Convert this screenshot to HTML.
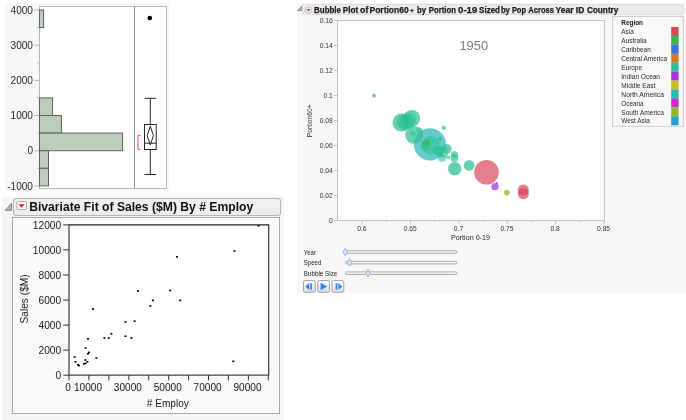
<!DOCTYPE html>
<html><head><meta charset="utf-8"><title>JMP report</title>
<style>
html,body{margin:0;padding:0;background:#fff;}
body{width:686px;height:420px;overflow:hidden;font-family:'Liberation Sans', sans-serif;}
svg{display:block;font-family:'Liberation Sans', sans-serif;}
</style></head><body>
<svg width="686" height="420" viewBox="0 0 686 420">
<rect x="5" y="3" width="164" height="188" fill="#f7f7f7"/>
<rect x="39.5" y="6.5" width="127" height="182" fill="#fff" stroke="#bababa" stroke-width="1"/>
<line x1="134.5" y1="6.5" x2="134.5" y2="188.5" stroke="#8c8c8c" stroke-width="1"/>
<line x1="34.5" y1="10.0" x2="39.5" y2="10.0" stroke="#b5b5b5" stroke-width="1"/>
<text x="33" y="13.7" font-size="10.1" text-anchor="end" fill="#2a2a2a">4000</text>
<line x1="34.5" y1="45.2" x2="39.5" y2="45.2" stroke="#b5b5b5" stroke-width="1"/>
<text x="33" y="48.9" font-size="10.1" text-anchor="end" fill="#2a2a2a">3000</text>
<line x1="34.5" y1="80.4" x2="39.5" y2="80.4" stroke="#b5b5b5" stroke-width="1"/>
<text x="33" y="84.1" font-size="10.1" text-anchor="end" fill="#2a2a2a">2000</text>
<line x1="34.5" y1="115.5" x2="39.5" y2="115.5" stroke="#b5b5b5" stroke-width="1"/>
<text x="33" y="119.2" font-size="10.1" text-anchor="end" fill="#2a2a2a">1000</text>
<line x1="34.5" y1="150.7" x2="39.5" y2="150.7" stroke="#b5b5b5" stroke-width="1"/>
<text x="33" y="154.4" font-size="10.1" text-anchor="end" fill="#2a2a2a">0</text>
<line x1="34.5" y1="185.9" x2="39.5" y2="185.9" stroke="#b5b5b5" stroke-width="1"/>
<text x="33" y="189.6" font-size="10.1" text-anchor="end" fill="#2a2a2a">-1000</text>
<line x1="37" y1="27.6" x2="39.5" y2="27.6" stroke="#b5b5b5" stroke-width="1"/>
<line x1="37" y1="62.8" x2="39.5" y2="62.8" stroke="#b5b5b5" stroke-width="1"/>
<line x1="37" y1="97.9" x2="39.5" y2="97.9" stroke="#b5b5b5" stroke-width="1"/>
<line x1="37" y1="133.1" x2="39.5" y2="133.1" stroke="#b5b5b5" stroke-width="1"/>
<line x1="37" y1="168.3" x2="39.5" y2="168.3" stroke="#b5b5b5" stroke-width="1"/>
<rect x="39.5" y="10.0" width="4.1" height="17.6" fill="#bccdbc" stroke="#56655a" stroke-width="1"/>
<rect x="39.5" y="97.9" width="13.1" height="17.6" fill="#bccdbc" stroke="#56655a" stroke-width="1"/>
<rect x="39.5" y="115.5" width="21.9" height="17.6" fill="#bccdbc" stroke="#56655a" stroke-width="1"/>
<rect x="39.5" y="133.1" width="83.1" height="17.6" fill="#bccdbc" stroke="#56655a" stroke-width="1"/>
<rect x="39.5" y="150.7" width="9.0" height="17.6" fill="#bccdbc" stroke="#56655a" stroke-width="1"/>
<rect x="39.5" y="168.3" width="9.0" height="17.6" fill="#bccdbc" stroke="#56655a" stroke-width="1"/>
<circle cx="149.8" cy="18" r="2.3" fill="#000"/>
<g stroke="#262626" stroke-width="1" fill="none">
<line x1="150.3" y1="98.3" x2="150.3" y2="124.5"/><line x1="150.3" y1="149.5" x2="150.3" y2="174.5"/>
<line x1="144.5" y1="98.3" x2="156.2" y2="98.3"/><line x1="144.5" y1="174.5" x2="156.2" y2="174.5"/>
<rect x="144.5" y="124.5" width="11.7" height="25" fill="#fff"/>
<line x1="144.5" y1="143.2" x2="156.2" y2="143.2"/>
<path d="M150.3 126.2 L153.4 135.6 L150.3 145 L147.2 135.6 Z"/>
</g>
<path d="M140.3 135.5 H138 V149.5 H140.3" fill="none" stroke="#e8505f" stroke-width="1"/>
<rect x="2" y="197" width="281.8" height="223" fill="#f5f5f5"/>
<path d="M5.3 210.3 L11.6 210.3 L11.6 203.2 Z" fill="#b4b4b4" stroke="#7a7a7a" stroke-width="0.9"/>
<defs><linearGradient id="hg" x1="0" y1="0" x2="0" y2="1"><stop offset="0" stop-color="#f1f1f1"/><stop offset="1" stop-color="#ececec"/></linearGradient><linearGradient id="bg" x1="0" y1="0" x2="0" y2="1"><stop offset="0" stop-color="#fdfdfd"/><stop offset="1" stop-color="#dcdcdc"/></linearGradient></defs>
<rect x="13.5" y="198.5" width="267.1" height="17" rx="3.2" ry="3.2" fill="url(#hg)" stroke="#b6b6b6" stroke-width="1.1"/>
<rect x="16.8" y="201.5" width="9.6" height="8" rx="1.5" fill="#fafafa" stroke="#a8a8a8" stroke-width="0.9"/>
<path d="M18.6 204.3 L24.6 204.3 L21.6 207.8 Z" fill="#d81a1a"/>
<text x="29.2" y="211.3" font-size="12.2" font-weight="bold" fill="#111" textLength="224" lengthAdjust="spacingAndGlyphs">Bivariate Fit of Sales ($M) By # Employ</text>
<rect x="12.5" y="217.5" width="267" height="196" fill="#f9f9f9" stroke="#a6a6a6" stroke-width="1"/>
<rect x="13.5" y="218.5" width="265" height="194" fill="none" stroke="#ffffff" stroke-width="1"/>
<rect x="69" y="225" width="199.6" height="150.2" fill="#fff"/>
<path d="M69 224.9 H268.7 V375.2" fill="none" stroke="#222" stroke-width="1.1"/>
<path d="M69 224.4 V375.2 H269.2" fill="none" stroke="#444" stroke-width="1.25"/>
<line x1="63.2" y1="375.2" x2="69" y2="375.2" stroke="#333" stroke-width="1"/>
<text x="61.2" y="378.9" font-size="10.2" text-anchor="end" fill="#1a1a1a">0</text>
<line x1="63.2" y1="350.1" x2="69" y2="350.1" stroke="#333" stroke-width="1"/>
<text x="61.2" y="353.8" font-size="10.2" text-anchor="end" fill="#1a1a1a">2000</text>
<line x1="63.2" y1="325.1" x2="69" y2="325.1" stroke="#333" stroke-width="1"/>
<text x="61.2" y="328.8" font-size="10.2" text-anchor="end" fill="#1a1a1a">4000</text>
<line x1="63.2" y1="300.1" x2="69" y2="300.1" stroke="#333" stroke-width="1"/>
<text x="61.2" y="303.8" font-size="10.2" text-anchor="end" fill="#1a1a1a">6000</text>
<line x1="63.2" y1="275.0" x2="69" y2="275.0" stroke="#333" stroke-width="1"/>
<text x="61.2" y="278.7" font-size="10.2" text-anchor="end" fill="#1a1a1a">8000</text>
<line x1="63.2" y1="249.9" x2="69" y2="249.9" stroke="#333" stroke-width="1"/>
<text x="61.2" y="253.6" font-size="10.2" text-anchor="end" fill="#1a1a1a">10000</text>
<line x1="63.2" y1="224.9" x2="69" y2="224.9" stroke="#333" stroke-width="1"/>
<text x="61.2" y="228.6" font-size="10.2" text-anchor="end" fill="#1a1a1a">12000</text>
<line x1="69.0" y1="375.2" x2="69.0" y2="380.4" stroke="#333" stroke-width="1"/>
<line x1="88.9" y1="375.2" x2="88.9" y2="380.4" stroke="#333" stroke-width="1"/>
<line x1="108.9" y1="375.2" x2="108.9" y2="380.4" stroke="#333" stroke-width="1"/>
<line x1="128.8" y1="375.2" x2="128.8" y2="380.4" stroke="#333" stroke-width="1"/>
<line x1="148.7" y1="375.2" x2="148.7" y2="380.4" stroke="#333" stroke-width="1"/>
<line x1="168.7" y1="375.2" x2="168.7" y2="380.4" stroke="#333" stroke-width="1"/>
<line x1="188.6" y1="375.2" x2="188.6" y2="380.4" stroke="#333" stroke-width="1"/>
<line x1="208.5" y1="375.2" x2="208.5" y2="380.4" stroke="#333" stroke-width="1"/>
<line x1="228.4" y1="375.2" x2="228.4" y2="380.4" stroke="#333" stroke-width="1"/>
<line x1="248.4" y1="375.2" x2="248.4" y2="380.4" stroke="#333" stroke-width="1"/>
<line x1="268.3" y1="375.2" x2="268.3" y2="380.4" stroke="#333" stroke-width="1"/>
<text x="68.1" y="391" font-size="10.1" text-anchor="middle" fill="#1a1a1a">0</text>
<text x="88.0" y="391" font-size="10.1" text-anchor="middle" fill="#1a1a1a">10000</text>
<text x="127.9" y="391" font-size="10.1" text-anchor="middle" fill="#1a1a1a">30000</text>
<text x="167.8" y="391" font-size="10.1" text-anchor="middle" fill="#1a1a1a">50000</text>
<text x="207.6" y="391" font-size="10.1" text-anchor="middle" fill="#1a1a1a">70000</text>
<text x="247.5" y="391" font-size="10.1" text-anchor="middle" fill="#1a1a1a">90000</text>
<text x="167.8" y="406.7" font-size="10.1" text-anchor="middle" fill="#1a1a1a"># Employ</text>
<text transform="translate(27.8 298.9) rotate(-90)" font-size="10.2" text-anchor="middle" fill="#1a1a1a">Sales ($M)</text>
<rect x="257.5" y="225.0" width="2" height="1.6" fill="#000"/>
<rect x="233.4" y="250.2" width="2" height="1.6" fill="#000"/>
<rect x="176.0" y="256.0" width="2" height="1.6" fill="#000"/>
<rect x="169.1" y="289.7" width="2" height="1.6" fill="#000"/>
<rect x="137.0" y="290.2" width="2" height="1.6" fill="#000"/>
<rect x="151.9" y="299.6" width="2" height="1.6" fill="#000"/>
<rect x="179.3" y="299.6" width="2" height="1.6" fill="#000"/>
<rect x="149.4" y="305.2" width="2" height="1.6" fill="#000"/>
<rect x="92.0" y="308.2" width="2" height="1.6" fill="#000"/>
<rect x="124.4" y="321.2" width="2" height="1.6" fill="#000"/>
<rect x="133.6" y="320.4" width="2" height="1.6" fill="#000"/>
<rect x="110.4" y="333.0" width="2" height="1.6" fill="#000"/>
<rect x="124.4" y="335.4" width="2" height="1.6" fill="#000"/>
<rect x="130.4" y="337.2" width="2" height="1.6" fill="#000"/>
<rect x="103.4" y="337.2" width="2" height="1.6" fill="#000"/>
<rect x="107.8" y="337.2" width="2" height="1.6" fill="#000"/>
<rect x="87.0" y="338.0" width="2" height="1.6" fill="#000"/>
<rect x="84.6" y="347.2" width="2" height="1.6" fill="#000"/>
<rect x="88.0" y="351.6" width="2" height="1.6" fill="#000"/>
<rect x="87.0" y="353.0" width="2" height="1.6" fill="#000"/>
<rect x="95.4" y="357.2" width="2" height="1.6" fill="#000"/>
<rect x="73.6" y="356.2" width="2" height="1.6" fill="#000"/>
<rect x="84.4" y="359.2" width="2" height="1.6" fill="#000"/>
<rect x="74.6" y="361.0" width="2" height="1.6" fill="#000"/>
<rect x="86.4" y="361.0" width="2" height="1.6" fill="#000"/>
<rect x="83.0" y="363.0" width="2" height="1.6" fill="#000"/>
<rect x="84.6" y="362.6" width="2" height="1.6" fill="#000"/>
<rect x="77.0" y="364.0" width="2" height="1.6" fill="#000"/>
<rect x="78.0" y="364.8" width="2" height="1.6" fill="#000"/>
<rect x="232.3" y="360.5" width="2" height="1.6" fill="#000"/>
<rect x="297" y="3" width="389" height="290" fill="#f7f7f7"/>
<path d="M297.4 10.6 L302 10.6 L302 6.2 Z" fill="#b8b8b8" stroke="#808080" stroke-width="0.8"/>
<rect x="302.5" y="4.5" width="381" height="10" rx="1.5" fill="#ebebeb" stroke="#dedede" stroke-width="1"/>
<rect x="305.4" y="7.2" width="6.2" height="5.2" rx="1" fill="#efefef" stroke="#b0b0b0" stroke-width="0.7"/>
<path d="M306.6 8.9 L310.4 8.9 L308.5 11.2 Z" fill="#d81a1a"/>
<text y="12.6" font-size="9" font-weight="bold" fill="#1a1a1a" stroke="#1a1a1a" stroke-width="0.25"><tspan x="314.1" textLength="26.9" lengthAdjust="spacingAndGlyphs">Bubble</tspan> <tspan x="342.8" textLength="15.5" lengthAdjust="spacingAndGlyphs">Plot</tspan> <tspan x="360.1" textLength="8.3" lengthAdjust="spacingAndGlyphs">of</tspan> <tspan x="369.5" textLength="39.2" lengthAdjust="spacingAndGlyphs">Portion60</tspan> <tspan x="409.7" textLength="4.3" lengthAdjust="spacingAndGlyphs" font-size="6" dy="-0.6">+</tspan> <tspan x="417.1" textLength="9.0" lengthAdjust="spacingAndGlyphs" dy="0.6">by</tspan> <tspan x="428.8" textLength="27.2" lengthAdjust="spacingAndGlyphs">Portion</tspan> <tspan x="458.1" textLength="19.1" lengthAdjust="spacingAndGlyphs">0-19</tspan> <tspan x="479.1" textLength="20.9" lengthAdjust="spacingAndGlyphs">Sized</tspan> <tspan x="500.9" textLength="9.0" lengthAdjust="spacingAndGlyphs">by</tspan> <tspan x="511.9" textLength="14.1" lengthAdjust="spacingAndGlyphs">Pop</tspan> <tspan x="528.2" textLength="25.8" lengthAdjust="spacingAndGlyphs">Across</tspan> <tspan x="555.5" textLength="18.1" lengthAdjust="spacingAndGlyphs">Year</tspan> <tspan x="575.8" textLength="8.4" lengthAdjust="spacingAndGlyphs">ID</tspan> <tspan x="586.9" textLength="31.5" lengthAdjust="spacingAndGlyphs">Country</tspan></text>
<rect x="337.5" y="20.5" width="267" height="200" fill="#fff" stroke="#c4c4c4" stroke-width="1"/>
<line x1="334" y1="20.5" x2="337.5" y2="20.5" stroke="#c4c4c4" stroke-width="1"/>
<text x="332.8" y="23.0" font-size="6.7" text-anchor="end" fill="#333">0.16</text>
<line x1="334" y1="45.5" x2="337.5" y2="45.5" stroke="#c4c4c4" stroke-width="1"/>
<text x="332.8" y="48.0" font-size="6.7" text-anchor="end" fill="#333">0.14</text>
<line x1="334" y1="70.5" x2="337.5" y2="70.5" stroke="#c4c4c4" stroke-width="1"/>
<text x="332.8" y="73.0" font-size="6.7" text-anchor="end" fill="#333">0.12</text>
<line x1="334" y1="95.5" x2="337.5" y2="95.5" stroke="#c4c4c4" stroke-width="1"/>
<text x="332.8" y="98.0" font-size="6.7" text-anchor="end" fill="#333">0.1</text>
<line x1="334" y1="120.5" x2="337.5" y2="120.5" stroke="#c4c4c4" stroke-width="1"/>
<text x="332.8" y="123.0" font-size="6.7" text-anchor="end" fill="#333">0.08</text>
<line x1="334" y1="145.5" x2="337.5" y2="145.5" stroke="#c4c4c4" stroke-width="1"/>
<text x="332.8" y="148.0" font-size="6.7" text-anchor="end" fill="#333">0.06</text>
<line x1="334" y1="170.5" x2="337.5" y2="170.5" stroke="#c4c4c4" stroke-width="1"/>
<text x="332.8" y="173.0" font-size="6.7" text-anchor="end" fill="#333">0.04</text>
<line x1="334" y1="195.5" x2="337.5" y2="195.5" stroke="#c4c4c4" stroke-width="1"/>
<text x="332.8" y="198.0" font-size="6.7" text-anchor="end" fill="#333">0.02</text>
<line x1="334" y1="220.5" x2="337.5" y2="220.5" stroke="#c4c4c4" stroke-width="1"/>
<text x="332.8" y="223.0" font-size="6.7" text-anchor="end" fill="#333">0</text>
<line x1="362.2" y1="220.5" x2="362.2" y2="224" stroke="#c4c4c4" stroke-width="1"/>
<text x="361.8" y="231.1" font-size="6.7" text-anchor="middle" fill="#333">0.6</text>
<line x1="386.4" y1="220.5" x2="386.4" y2="222.3" stroke="#c4c4c4" stroke-width="1"/>
<line x1="410.6" y1="220.5" x2="410.6" y2="224" stroke="#c4c4c4" stroke-width="1"/>
<text x="410.2" y="231.1" font-size="6.7" text-anchor="middle" fill="#333">0.65</text>
<line x1="434.7" y1="220.5" x2="434.7" y2="222.3" stroke="#c4c4c4" stroke-width="1"/>
<line x1="458.9" y1="220.5" x2="458.9" y2="224" stroke="#c4c4c4" stroke-width="1"/>
<text x="458.5" y="231.1" font-size="6.7" text-anchor="middle" fill="#333">0.7</text>
<line x1="483.1" y1="220.5" x2="483.1" y2="222.3" stroke="#c4c4c4" stroke-width="1"/>
<line x1="507.3" y1="220.5" x2="507.3" y2="224" stroke="#c4c4c4" stroke-width="1"/>
<text x="506.9" y="231.1" font-size="6.7" text-anchor="middle" fill="#333">0.75</text>
<line x1="531.5" y1="220.5" x2="531.5" y2="222.3" stroke="#c4c4c4" stroke-width="1"/>
<line x1="555.6" y1="220.5" x2="555.6" y2="224" stroke="#c4c4c4" stroke-width="1"/>
<text x="555.2" y="231.1" font-size="6.7" text-anchor="middle" fill="#333">0.8</text>
<line x1="579.8" y1="220.5" x2="579.8" y2="222.3" stroke="#c4c4c4" stroke-width="1"/>
<line x1="604.0" y1="220.5" x2="604.0" y2="224" stroke="#c4c4c4" stroke-width="1"/>
<text x="603.6" y="231.1" font-size="6.7" text-anchor="middle" fill="#333">0.85</text>
<text x="470.5" y="240" font-size="7.2" text-anchor="middle" fill="#2a2a2a">Portion 0-19</text>
<text transform="translate(312 120.8) rotate(-90)" font-size="6.8" text-anchor="middle" fill="#2a2a2a">Portion60+</text>
<text x="473.8" y="50.1" font-size="12.9" text-anchor="middle" fill="#7c7c7c">1950</text>
<circle cx="430" cy="144.3" r="16.1" fill="#28b8b8" fill-opacity="0.72"/>
<circle cx="374" cy="95.7" r="1.9" fill="#2bbf92" fill-opacity="0.75"/>
<circle cx="401.5" cy="122.6" r="9.0" fill="#2bbf92" fill-opacity="0.72"/>
<circle cx="405" cy="122" r="8.2" fill="#2bbf92" fill-opacity="0.6"/>
<circle cx="408.3" cy="120.5" r="7.8" fill="#2bbf92" fill-opacity="0.6"/>
<circle cx="411.8" cy="118.3" r="8.4" fill="#2bbf92" fill-opacity="0.72"/>
<circle cx="414.2" cy="135" r="9.0" fill="#2bbf92" fill-opacity="0.7"/>
<circle cx="419.4" cy="130.7" r="3.3" fill="#2bbf92" fill-opacity="0.5"/>
<circle cx="413" cy="133.5" r="2.9" fill="#2bbf92" fill-opacity="0.5"/>
<circle cx="443.8" cy="127.9" r="2.1" fill="#2bbf92" fill-opacity="0.7"/>
<circle cx="430.7" cy="145.2" r="9.2" fill="#2bbf92" fill-opacity="0.55"/>
<circle cx="425.7" cy="146.4" r="5" fill="#2bbf92" fill-opacity="0.55"/>
<circle cx="438.6" cy="150.7" r="5" fill="#2bbf92" fill-opacity="0.65"/>
<circle cx="442.9" cy="152.1" r="5.6" fill="#2bbf92" fill-opacity="0.6"/>
<circle cx="446.7" cy="148.8" r="4.9" fill="#2bbf92" fill-opacity="0.7"/>
<circle cx="442.1" cy="157.9" r="3.9" fill="#2bbf92" fill-opacity="0.6"/>
<circle cx="448.1" cy="157.4" r="2.1" fill="#2bbf92" fill-opacity="0.6"/>
<circle cx="454.4" cy="154.4" r="3.5" fill="#2bbf92" fill-opacity="0.65"/>
<circle cx="454.4" cy="158" r="3.9" fill="#2bbf92" fill-opacity="0.65"/>
<circle cx="454.7" cy="168.8" r="6.7" fill="#2bbf92" fill-opacity="0.72"/>
<circle cx="469.1" cy="165.4" r="5.3" fill="#2bbf92" fill-opacity="0.72"/>
<circle cx="426.7" cy="142.5" r="3.5" fill="#3cb44b" fill-opacity="0.75"/>
<circle cx="440" cy="138.6" r="1.7" fill="#3cb44b" fill-opacity="0.7"/>
<circle cx="486.5" cy="172.2" r="12.3" fill="#d9475a" fill-opacity="0.7"/>
<circle cx="497" cy="183" r="1.1" fill="#4070e0" fill-opacity="0.8"/>
<circle cx="495" cy="186.7" r="3.6" fill="#a832e0" fill-opacity="0.75"/>
<circle cx="506.8" cy="192.6" r="2.8" fill="#8fb828" fill-opacity="0.75"/>
<circle cx="523.3" cy="190" r="5.6" fill="#d9475a" fill-opacity="0.7"/>
<circle cx="523.3" cy="193.6" r="5.6" fill="#d9475a" fill-opacity="0.7"/>
<circle cx="525.8" cy="190.8" r="1.3" fill="#d9475a" fill-opacity="0.6"/>
<rect x="612.5" y="16.5" width="70.8" height="109.8" fill="#f8f8f8" stroke="#cfcfcf" stroke-width="1"/>
<text x="621.3" y="25.3" font-size="7" font-weight="bold" fill="#1a1a1a" textLength="21.7" lengthAdjust="spacingAndGlyphs">Region</text>
<rect x="671.2" y="27.00" width="7.4" height="8.95" fill="#d9475a"/>
<text x="621.3" y="34.1" font-size="7" fill="#2a2a2a" textLength="12.4" lengthAdjust="spacingAndGlyphs">Asia</text>
<rect x="671.2" y="35.93" width="7.4" height="8.95" fill="#3cb44b"/>
<text x="621.3" y="43.0" font-size="7" fill="#2a2a2a" textLength="25.4" lengthAdjust="spacingAndGlyphs">Australia</text>
<rect x="671.2" y="44.86" width="7.4" height="8.95" fill="#4070e0"/>
<text x="621.3" y="52.0" font-size="7" fill="#2a2a2a" textLength="29.4" lengthAdjust="spacingAndGlyphs">Caribbean</text>
<rect x="671.2" y="53.79" width="7.4" height="8.95" fill="#d97b28"/>
<text x="621.3" y="60.9" font-size="7" fill="#2a2a2a" textLength="45.8" lengthAdjust="spacingAndGlyphs">Central America</text>
<rect x="671.2" y="62.72" width="7.4" height="8.95" fill="#2bbf92"/>
<text x="621.3" y="69.8" font-size="7" fill="#2a2a2a" textLength="20.7" lengthAdjust="spacingAndGlyphs">Europe</text>
<rect x="671.2" y="71.65" width="7.4" height="8.95" fill="#a832e0"/>
<text x="621.3" y="78.8" font-size="7" fill="#2a2a2a" textLength="38.7" lengthAdjust="spacingAndGlyphs">Indian Ocean</text>
<rect x="671.2" y="80.58" width="7.4" height="8.95" fill="#c8c028"/>
<text x="621.3" y="87.7" font-size="7" fill="#2a2a2a" textLength="34" lengthAdjust="spacingAndGlyphs">Middle East</text>
<rect x="671.2" y="89.51" width="7.4" height="8.95" fill="#28b8b8"/>
<text x="621.3" y="96.6" font-size="7" fill="#2a2a2a" textLength="42.7" lengthAdjust="spacingAndGlyphs">North America</text>
<rect x="671.2" y="98.44" width="7.4" height="8.95" fill="#d028d0"/>
<text x="621.3" y="105.5" font-size="7" fill="#2a2a2a" textLength="22.3" lengthAdjust="spacingAndGlyphs">Oceana</text>
<rect x="671.2" y="107.37" width="7.4" height="8.95" fill="#8fb828"/>
<text x="621.3" y="114.5" font-size="7" fill="#2a2a2a" textLength="42.7" lengthAdjust="spacingAndGlyphs">South America</text>
<rect x="671.2" y="116.30" width="7.4" height="8.95" fill="#28a0c8"/>
<text x="621.3" y="123.4" font-size="7" fill="#2a2a2a" textLength="28.5" lengthAdjust="spacingAndGlyphs">West Asia</text>
<text x="303.8" y="254.6" font-size="7" fill="#222" textLength="12.2" lengthAdjust="spacingAndGlyphs">Year</text>
<rect x="345.5" y="250.8" width="111.5" height="2.6" rx="1.3" fill="#f4f4f4" stroke="#9a9a9a" stroke-width="0.8"/>
<path d="M345.2 248.3 L347.4 252.1 L345.2 255.9 L343.0 252.1 Z" fill="#dbe8f8" stroke="#86a4d2" stroke-width="0.8"/>
<text x="303.8" y="265.1" font-size="7" fill="#222" textLength="17.5" lengthAdjust="spacingAndGlyphs">Speed</text>
<rect x="345.5" y="261.3" width="111.5" height="2.6" rx="1.3" fill="#f4f4f4" stroke="#9a9a9a" stroke-width="0.8"/>
<path d="M349.7 258.8 L351.9 262.6 L349.7 266.4 L347.5 262.6 Z" fill="#dbe8f8" stroke="#86a4d2" stroke-width="0.8"/>
<text x="303.8" y="275.7" font-size="7" fill="#222" textLength="33.5" lengthAdjust="spacingAndGlyphs">Bubble Size</text>
<rect x="345.5" y="271.9" width="111.5" height="2.6" rx="1.3" fill="#f4f4f4" stroke="#9a9a9a" stroke-width="0.8"/>
<path d="M368 269.4 L370.2 273.2 L368 277.0 L365.8 273.2 Z" fill="#dbe8f8" stroke="#86a4d2" stroke-width="0.8"/>
<rect x="303.5" y="280.5" width="11.8" height="11.8" rx="1.8" fill="url(#bg)" stroke="#9c9c9c" stroke-width="0.9"/>
<rect x="317.7" y="280.5" width="11.8" height="11.8" rx="1.8" fill="url(#bg)" stroke="#9c9c9c" stroke-width="0.9"/>
<rect x="332.0" y="280.5" width="11.8" height="11.8" rx="1.8" fill="url(#bg)" stroke="#9c9c9c" stroke-width="0.9"/>
<path d="M309.2 283 L309.2 290 L305.3 286.5 Z M310.2 283.2 h1.7 v6.6 h-1.7 Z" fill="#2f86e8"/>
<path d="M320.6 282.8 L327.2 286.5 L320.6 290.2 Z" fill="#2f86e8"/>
<path d="M338.3 283 L338.3 290 L342.2 286.5 Z M335.6 283.2 h1.7 v6.6 h-1.7 Z" fill="#2f86e8"/>
</svg>
</body></html>
